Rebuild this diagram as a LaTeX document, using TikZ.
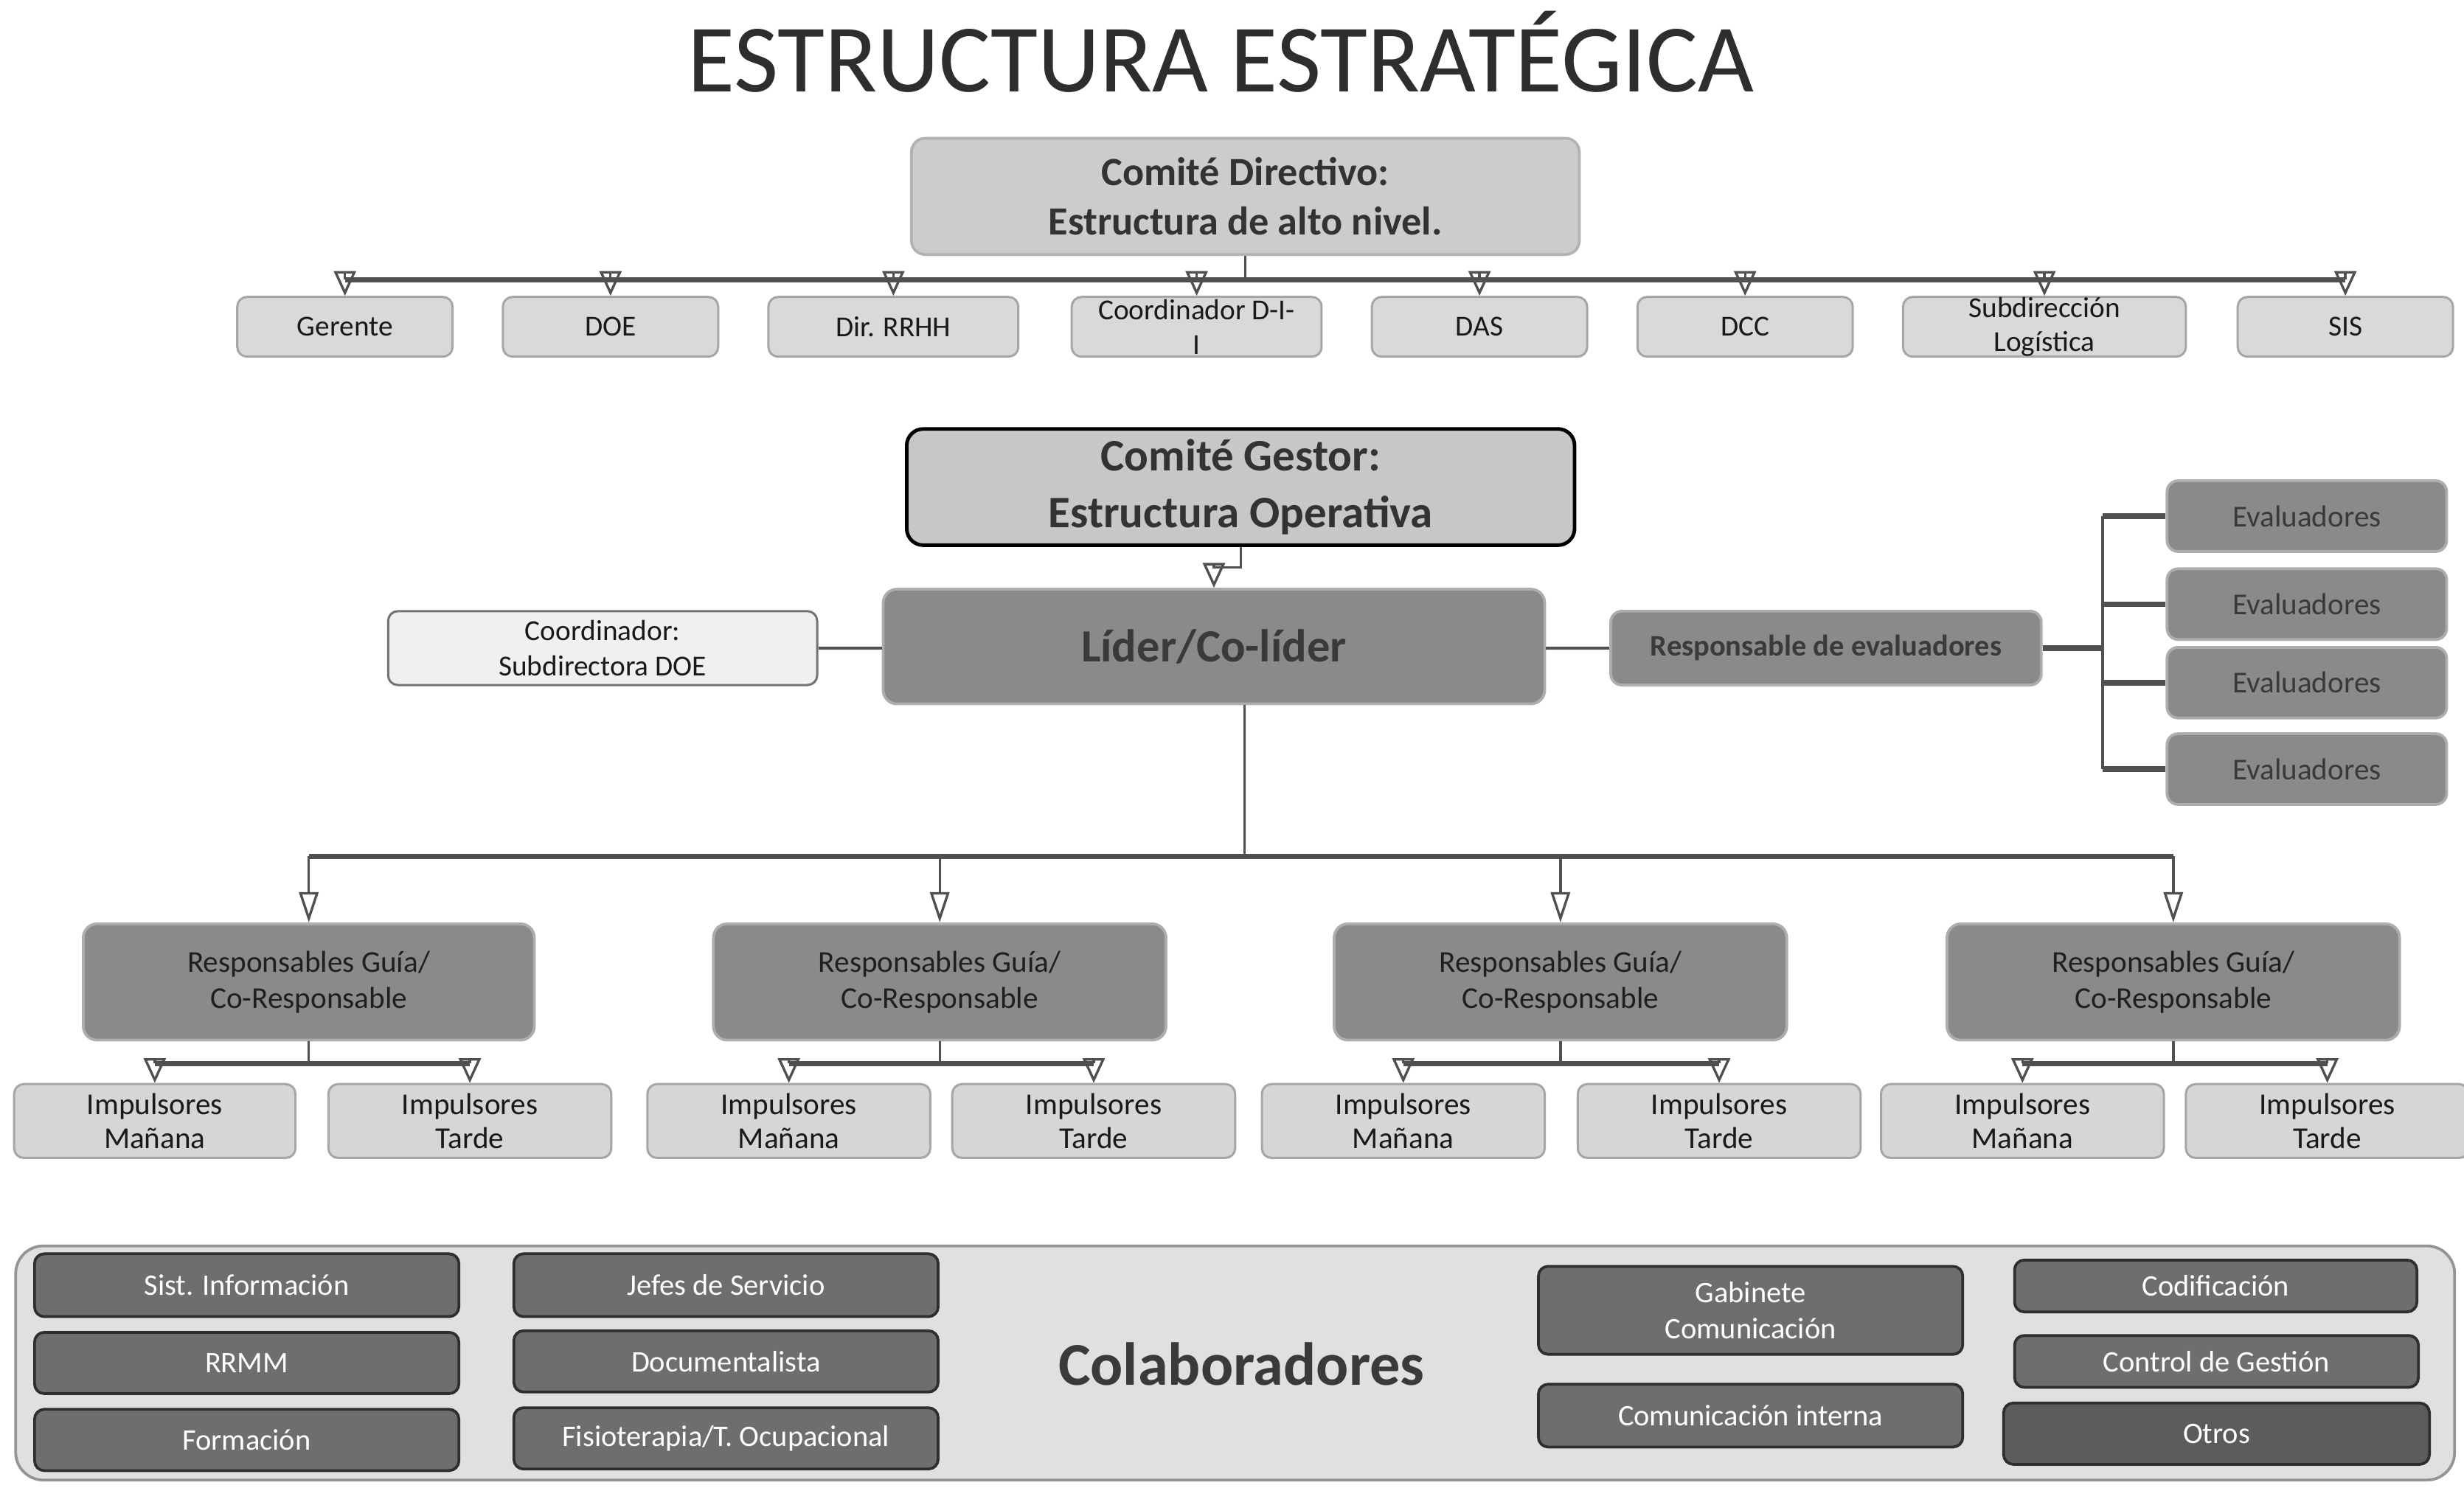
\documentclass[tikz,border=0pt]{standalone}
\usepackage{fontspec}
\setmainfont{Carlito}
\usetikzlibrary{arrows.meta,positioning}
\definecolor{lnc}{HTML}{505050}
\definecolor{txd}{HTML}{3A3A3A}
\tikzset{
  bx/.style={rounded corners=3.5pt, inner sep=0pt, align=center, line width=0.8pt},
  lightbox/.style={bx, fill=black!15, draw=black!35, text=black!90, font=\fontsize{10.5}{12.5}\selectfont},
  cdbox/.style={bx, rounded corners=5pt, fill=black!20, draw=black!30, line width=1pt, text=black!80, font=\fontsize{14.5}{18}\selectfont\bfseries},
  cgbox/.style={bx, rounded corners=6pt, fill=black!22, draw=black, line width=1.3pt, text=black!80, font=\fontsize{16.3}{20.4}\selectfont\bfseries},
  midbox/.style={bx, rounded corners=5pt, fill=black!46, draw=black!32, line width=1pt, text=txd},
  coordbox/.style={bx, fill=black!6, draw=black!55, text=black!90, font=\fontsize{10.5}{13}\selectfont},
  impbox/.style={bx, fill=black!16, draw=black!35, text=black!90, font=\fontsize{11}{12.5}\selectfont},
  colbox/.style={bx, rounded corners=10pt, fill=black!12, draw=black!42, line width=1pt},
  darkbox/.style={bx, fill=black!57, draw=black!82, line width=1pt, text=white, font=\fontsize{10.8}{13}\selectfont},
  ln/.style={draw=lnc, line width=0.9pt},
  barln/.style={draw=lnc, line width=2pt},
  arr/.style={draw=lnc, line width=0.9pt, -{Triangle[open,length=9pt,width=8pt]}},
  arrlong/.style={draw=lnc, line width=0.9pt, -{Triangle[open,length=11pt,width=7pt]}},
}
\newcommand\bx[7]{%
  \pgfmathsetmacro\bxw{(#4-#2)*0.02}%
  \pgfmathsetmacro\bxh{(#5-#3)*0.02}%
  \node[#6, minimum width=\bxw cm, minimum height=\bxh cm] (#1) at ({(#2+#4)/2},{(#3+#5)/2}) {#7};}
\begin{document}
\begin{tikzpicture}[x=0.02cm, y=-0.02cm]
\useasboundingbox (0,0) rectangle (1568,947);

% title
\node[text=black!82, font=\fontsize{35}{40}\selectfont] (title) at (777,33) {ESTRUCTURA ESTRATÉGICA};

% Comite directivo
\bx{cd}{580}{88}{1005}{162}{cdbox}{Comité Directivo:\\Estructura de alto nivel.}
\bx{g1}{151}{189}{288}{227}{lightbox}{Gerente}
\bx{doe}{320}{189}{457}{227}{lightbox}{DOE}
\bx{rrhh}{489}{189}{648}{227}{lightbox}{Dir. RRHH}
\bx{cdii}{682}{189}{841}{227}{lightbox}{Coordinador D-I-\\I}
\bx{das}{873}{189}{1010}{227}{lightbox}{DAS}
\bx{dcc}{1042}{189}{1179}{227}{lightbox}{DCC}
\bx{slog}{1211}{189}{1391}{227}{lightbox}{Subdirección\\Logística}
\bx{sis}{1424}{189}{1561}{227}{lightbox}{SIS}

\coordinate (tb) at (792,178);
\draw[ln] (cd.south) -- (cd.south |- tb);
\draw[barln] (g1 |- tb) -- (sis |- tb);
\foreach \n in {g1,doe,rrhh,cdii,das,dcc,slog,sis}
  \draw[arr] (\n |- tb) -- (\n.north);

% Comite gestor
\bx{cg}{577}{273}{1002}{347}{cgbox}{Comité Gestor:\\Estructura Operativa}
\bx{lider}{562}{375}{983}{448}{midbox, font=\fontsize{16.7}{20}\selectfont\bfseries}{Líder/Co-líder}
\draw[arr] (cg.south) -- ++(0,13) -| (lider.north);

\bx{coord}{247}{389}{520}{436}{coordbox}{Coordinador:\\Subdirectora DOE}
\draw[ln] (coord.east) -- (coord.east -| lider.west);

\bx{re}{1025}{389}{1299}{436}{midbox, rounded corners=4pt, font=\fontsize{10.8}{13}\selectfont\bfseries}{Responsable de evaluadores}
\draw[ln] (lider.east |- re.west) -- (re.west);

\bx{e1}{1379}{306}{1557}{351}{midbox, rounded corners=4pt, font=\fontsize{11}{13}\selectfont}{Evaluadores}
\bx{e2}{1379}{362}{1557}{407}{midbox, rounded corners=4pt, font=\fontsize{11}{13}\selectfont}{Evaluadores}
\bx{e3}{1379}{412}{1557}{457}{midbox, rounded corners=4pt, font=\fontsize{11}{13}\selectfont}{Evaluadores}
\bx{e4}{1379}{467}{1557}{512}{midbox, rounded corners=4pt, font=\fontsize{11}{13}\selectfont}{Evaluadores}
\coordinate (ev) at (1338,412);
\draw[barln] (re.east) -- (re.east -| ev);
\draw[ln] (ev |- e1) -- (ev |- e4);
\foreach \n in {e1,e2,e3,e4}
  \draw[barln] (ev |- \n) -- (\n.west);

% Responsables guia
\foreach \n/\a/\b in {r1/53/340, r2/454/742, r3/849/1137, r4/1239/1527}
  \bx{\n}{\a}{588}{\b}{662}{midbox, text=black!88, font=\fontsize{11}{13}\selectfont}{Responsables Guía/\\Co-Responsable};
\coordinate (lb) at (792,545);
\draw[ln] (lider.south -| lb) -- (lb);
\draw[barln] (r1 |- lb) -- (r4 |- lb);
\foreach \n in {r1,r2,r3,r4}
  \draw[arrlong] (\n |- lb) -- (\n.north);

% Impulsores
\foreach \n/\a/\b/\t in {m1/9/188/Mañana, t1/209/389/Tarde, m2/412/592/Mañana, t2/606/786/Tarde, m3/803/983/Mañana, t3/1004/1184/Tarde, m4/1197/1377/Mañana, t4/1391/1571/Tarde}
  \bx{\n}{\a}{690}{\b}{737}{impbox}{Impulsores\\\t};
\foreach \i in {1,2,3,4}{
  \draw[ln] (r\i.south) -- ++(0,14) coordinate (c\i);
  \draw[barln] (m\i |- c\i) -- (t\i |- c\i);
  \draw[arr] (m\i |- c\i) -- (m\i.north);
  \draw[arr] (t\i |- c\i) -- (t\i.north);
}

% Colaboradores
\bx{colab}{10}{793}{1562}{942}{colbox}{}
\node[text=txd, font=\fontsize{22}{26}\selectfont\bfseries] (coltxt) at (790,868) {Colaboradores};
\bx{k1}{22}{798}{292}{838}{darkbox}{Sist. Información}
\bx{k2}{22}{848}{292}{887}{darkbox}{RRMM}
\bx{k3}{22}{897}{292}{936}{darkbox}{Formación}
\bx{k4}{327}{798}{597}{838}{darkbox}{Jefes de Servicio}
\bx{k5}{327}{847}{597}{886}{darkbox}{Documentalista}
\bx{k6}{327}{896}{597}{935}{darkbox}{Fisioterapia/T. Ocupacional}
\bx{k7}{979}{806}{1249}{862}{darkbox}{Gabinete\\Comunicación}
\bx{k8}{979}{881}{1249}{921}{darkbox}{Comunicación interna}
\bx{k9}{1282}{802}{1538}{835}{darkbox}{Codificación}
\bx{k10}{1282}{850}{1539}{883}{darkbox}{Control de Gestión}
\bx{k11}{1275}{893}{1546}{932}{darkbox, fill=black!64}{Otros}
\end{tikzpicture}
\end{document}
